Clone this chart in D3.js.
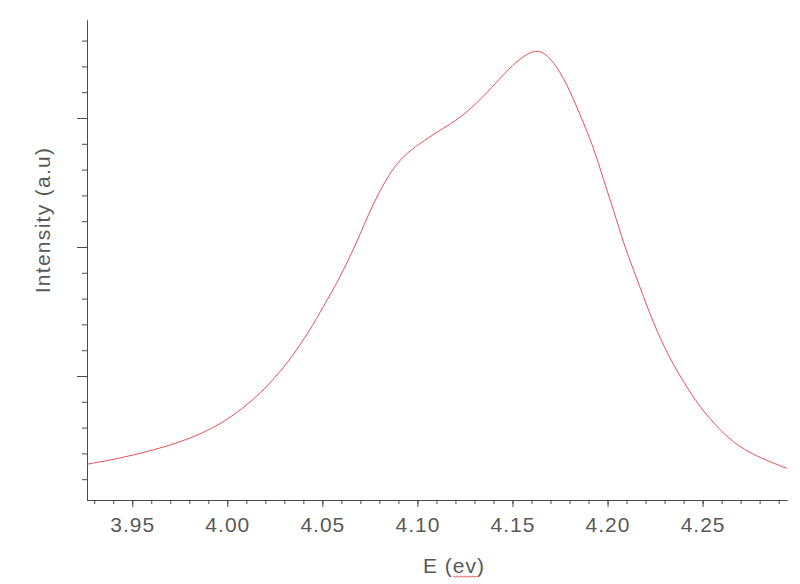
<!DOCTYPE html>
<html>
<head>
<meta charset="utf-8">
<script src="https://cdn.jsdelivr.net/npm/d3@7"></script>
<style>
  body { margin: 0; background: #fff; }
  svg text { font-family: Arial, "Liberation Sans", sans-serif; fill: #595959; }
</style>
</head>
<body>
<svg id="chart" width="800" height="584"></svg>
<script>
// photon energy (eV) and intensity (a.u.)
const energy = [3.9262, 3.9437, 3.9613, 3.9788, 3.9963, 4.0119, 4.0225, 4.0330,
  4.0435, 4.0505, 4.0576, 4.0646, 4.0716, 4.0768, 4.0839, 4.0892, 4.0962, 4.1067,
  4.1120, 4.1225, 4.1347, 4.1435, 4.1523, 4.1611, 4.1663, 4.1716, 4.1786, 4.1856,
  4.1926, 4.1979, 4.2032, 4.2084, 4.2137, 4.2189, 4.2242, 4.2313, 4.2383, 4.2471,
  4.2558, 4.2663, 4.2786, 4.2944];
const intensity = [0.316, 0.362, 0.426, 0.504, 0.620, 0.791, 0.943, 1.124,
  1.357, 1.537, 1.719, 1.925, 2.157, 2.339, 2.533, 2.649, 2.752, 2.855,
  2.907, 2.998, 3.165, 3.308, 3.445, 3.528, 3.512, 3.436, 3.269, 3.023,
  2.778, 2.519, 2.287, 2.029, 1.822, 1.615, 1.409, 1.176, 0.995, 0.788,
  0.633, 0.478, 0.374, 0.284];

const xMajor = [3.95, 4.00, 4.05, 4.10, 4.15, 4.20, 4.25];
const xMinor = d3.range(393, 430).map(d => d / 100);
const yMajor = [1, 2, 3];
const yMinor = d3.range(1, 19).map(d => d / 5);

const svg = d3.select('#chart');

const x = d3.scaleLinear()
    .domain([3.9262, 4.2944])
    .range([87, 787]);

const y = d3.scaleLinear()
    .domain([5 / 129, 485 / 129])
    .range([500, 20]);

// minor ticks first, majors drawn on top
svg.append('g')
    .attr('transform', 'translate(0,500)')
    .call(d3.axisBottom(x).tickValues(xMinor).tickSize(4).tickSizeOuter(0).tickFormat(''));

const xAxis = svg.append('g')
    .attr('transform', 'translate(0,500)')
    .call(d3.axisBottom(x).tickValues(xMajor).tickSize(7).tickSizeOuter(0).tickFormat(d3.format('.2f')));

xAxis.selectAll('text')
    .attr('y', 17)
    .style('font-size', '21px')
    .style('letter-spacing', '1px')
    .style('fill', '#595959');

svg.append('g')
    .attr('transform', 'translate(87,0)')
    .call(d3.axisLeft(y).tickValues(yMinor).tickSize(5).tickSizeOuter(0).tickFormat(''));

svg.append('g')
    .attr('transform', 'translate(87,0)')
    .call(d3.axisLeft(y).tickValues(yMajor).tickSize(10).tickSizeOuter(0).tickFormat(''));

svg.selectAll('.domain, .tick line')
    .attr('stroke', '#4a4a4a');

// curve (basis smooths out reading noise)
const line = d3.line()
    .x(d => x(d[0]))
    .y(d => y(d[1]))
    .curve(d3.curveBasis);

svg.append('path')
    .datum(d3.zip(energy, intensity))
    .attr('fill', 'none')
    .attr('stroke', '#ea5059')
    .attr('stroke-width', 1)
    .attr('d', line);

// axis titles
svg.append('text')
    .attr('x', 454)
    .attr('y', 573)
    .attr('text-anchor', 'middle')
    .style('font-size', '21px')
    .style('letter-spacing', '1px')
    .text('E (ev)');

svg.append('text')
    .attr('transform', 'translate(50,220) rotate(-90)')
    .attr('text-anchor', 'middle')
    .style('font-size', '21px')
    .style('letter-spacing', '1.3px')
    .text('Intensity (a.u)');

// spell-check squiggle under "ev"
const wave = d3.range(0, 13).map(i => [453 + i * 2, 576 + (i % 2 ? 1.2 : 0)]);
svg.append('path')
    .attr('d', d3.line()(wave))
    .attr('fill', 'none')
    .attr('stroke', '#e03030')
    .attr('stroke-width', 0.8);
</script>
</body>
</html>
